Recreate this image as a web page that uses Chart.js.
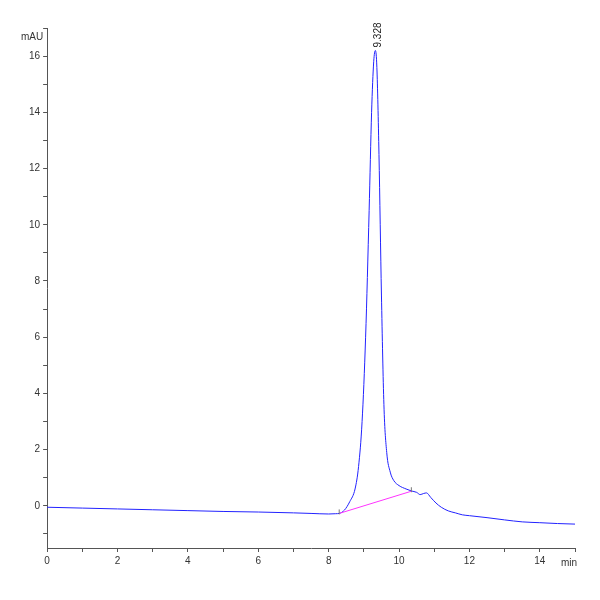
<!DOCTYPE html><html><head><script src="https://cdn.jsdelivr.net/npm/chart.js"></script>
<style>body{margin:0;background:#fff}#w{width:600px;height:600px}</style></head><body><div id="w"><canvas id="c"></canvas></div>
<script>
const times=[0,1,2,3,4,5,6,7,7.5,8,8.2,8.3,8.45,8.6,8.75,8.85,8.95,9.05,9.15,9.22,9.28,9.328,9.37,9.43,9.5,9.57,9.65,9.75,9.85,10.0,10.2,10.35,10.5,10.6,10.7,10.78,10.9,11.05,11.2,11.4,11.6,11.8,12.0,12.5,13.0,13.5,14.0,14.5,15.0];
const signal=[-0.05,-0.08,-0.11,-0.14,-0.17,-0.2,-0.22,-0.25,-0.27,-0.29,-0.28,-0.27,-0.15,0.15,0.6,1.4,3.0,6.0,10.5,14.0,15.8,16.2,15.6,12.5,7.5,3.6,1.9,1.2,0.9,0.72,0.6,0.53,0.48,0.4,0.44,0.46,0.3,0.1,-0.05,-0.18,-0.25,-0.32,-0.35,-0.42,-0.5,-0.57,-0.6,-0.63,-0.65];
const baseX=[8.3,10.35], baseY=[-0.27,0.52];
const xTicks=[0,2,4,6,8,10,12,14], yTicks=[0,2,4,6,8,10,12,14,16];
const peakLabel='9.328', peakT=9.328, peakV=16.2;
const extra={id:'extra',afterDatasetsDraw(ch){const {ctx,scales:{x,y}}=ch;ctx.save();
ctx.strokeStyle='#ff33ff';ctx.lineWidth=1;ctx.beginPath();ctx.moveTo(x.getPixelForValue(baseX[0]),y.getPixelForValue(baseY[0]));ctx.lineTo(x.getPixelForValue(baseX[1]),y.getPixelForValue(baseY[1]));ctx.stroke();
ctx.strokeStyle='#777';[0,1].forEach(i=>{const px=x.getPixelForValue(baseX[i]),py=y.getPixelForValue(baseY[i]);ctx.beginPath();ctx.moveTo(px,py-4);ctx.lineTo(px,py+1);ctx.stroke();});
ctx.translate(x.getPixelForValue(peakT)+3,y.getPixelForValue(peakV)-3);ctx.rotate(-Math.PI/2);ctx.fillStyle='#222';ctx.font='10px Liberation Sans';ctx.textBaseline='middle';ctx.fillText(peakLabel,0,0);ctx.restore();
ctx.save();ctx.fillStyle='#333';ctx.font='10px Liberation Sans';ctx.textAlign='right';ctx.fillText('mAU',x.left-4,y.top+12);ctx.textAlign='left';ctx.fillText('min',x.right-14,y.bottom+18);ctx.restore();}};
new Chart(document.getElementById('c'),{type:'line',data:{datasets:[{data:times.map((t,i)=>({x:t,y:signal[i]})),borderColor:'#2222ff',borderWidth:1,pointRadius:0,tension:0.4,cubicInterpolationMode:'monotone'}]},
options:{responsive:true,maintainAspectRatio:false,animation:false,layout:{padding:{top:28,right:25,left:26,bottom:30}},plugins:{legend:{display:false},tooltip:{enabled:false}},
scales:{x:{type:'linear',min:0,max:15,grid:{drawOnChartArea:false,tickLength:4,color:'#555'},border:{color:'#555'},afterBuildTicks(a){a.ticks=[...Array(16).keys()].map(v=>({value:v}));},ticks:{font:{size:10,family:'Liberation Sans'},color:'#333',maxRotation:0,callback:v=>xTicks.includes(v)?v:''}},
y:{type:'linear',min:-1.5,max:17,grid:{drawOnChartArea:false,tickLength:4,color:'#555'},border:{color:'#555'},afterBuildTicks(a){const t=[];for(let v=-1;v<=17;v++)t.push({value:v});a.ticks=t;},ticks:{font:{size:10,family:'Liberation Sans'},color:'#333',callback:v=>yTicks.includes(v)?v:''}}}},plugins:[extra]});
</script></body></html>
